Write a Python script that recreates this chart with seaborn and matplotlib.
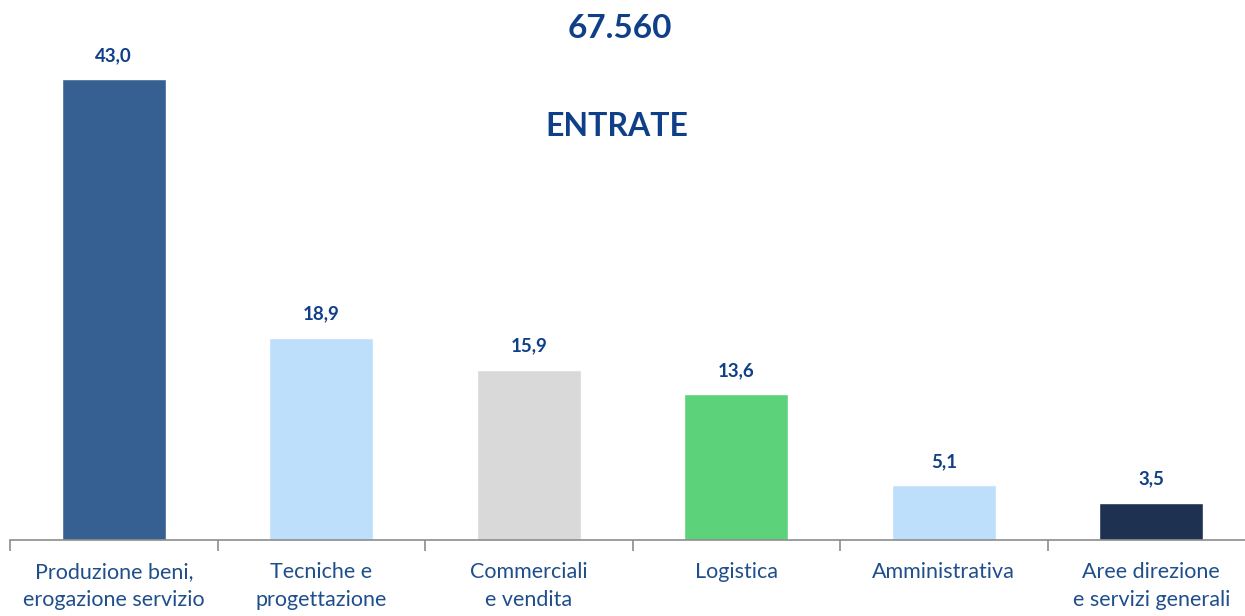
import numpy as np
import pandas as pd
import seaborn as sns
import matplotlib.pyplot as plt

categories = ["Produzione beni,\nerogazione servizio", "Tecniche e\nprogettazione",
              "Commerciali\ne vendita", "Logistica", "Amministrativa",
              "Aree direzione\ne servizi generali"]
values = [43.0, 18.9, 15.9, 13.6, 5.1, 3.5]
colors = ["#376092", "#BDDFFB", "#D9D9D9", "#5CD27A", "#BDDFFB", "#1E3150"]
total = "67.560"
subtitle = "ENTRATE"

sns.set_style("white")
plt.rcParams['font.family'] = ['Lato', 'DejaVu Sans']

df = pd.DataFrame({"cat": categories, "val": values})

fig = plt.figure(figsize=(12.45, 6.16), dpi=100)
ax = fig.add_axes([10 / 1245, 76 / 616, 1245 / 1245, 540 / 616])

sns.barplot(data=df, x="cat", y="val", hue="cat", palette=colors,
            width=0.5, legend=False, ax=ax, saturation=1)

blue = "#0F3F88"
for i, v in enumerate(values):
    ax.text(i, v + 1.4, f"{v:.1f}".replace(".", ","), ha="center", va="bottom",
            fontsize=13.5, fontweight="bold", color=blue)

ax.set_xlim(-0.5, 5.5)
ax.set_ylim(0, 50.4)
ax.set_xlabel("")
ax.set_ylabel("")
ax.set_yticks([])
for s in ["top", "right", "left"]:
    ax.spines[s].set_visible(False)
ax.spines["bottom"].set_color("#8C8C8C")
ax.spines["bottom"].set_linewidth(1.2)
ax.set_xticks(np.arange(-0.5, 6, 1), minor=True)
ax.tick_params(axis="x", which="minor", bottom=True, length=8, width=1.2,
               color="#8C8C8C", direction="out")
ax.tick_params(axis="x", which="major", length=0, pad=16, labelsize=15.5,
               labelcolor="#1F4E8C")
for lbl in ax.get_xticklabels():
    lbl.set_linespacing(1.5)

fig.text(620 / 1245, 1 - 28 / 616, total, ha="center", va="center",
         fontsize=24, fontweight="bold", color=blue)
fig.text(617 / 1245, 1 - 126 / 616, subtitle, ha="center", va="center",
         fontsize=23, fontweight="bold", color=blue)

fig.savefig("out.png", dpi=100)
